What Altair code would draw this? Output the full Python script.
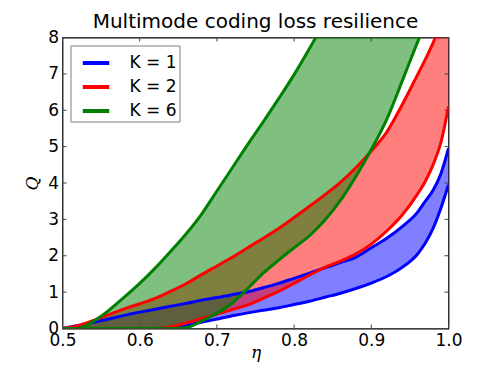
import altair as alt
import pandas as pd

eta = [0.50, 0.52, 0.54, 0.56, 0.58, 0.60, 0.62, 0.64, 0.66, 0.68, 0.70, 0.72, 0.74,
       0.76, 0.78, 0.80, 0.82, 0.84, 0.86, 0.88, 0.90, 0.92, 0.94, 0.96, 0.97, 0.98,
       0.99, 1.00]

k1_upper = [0.0, 0.08, 0.17, 0.26, 0.36, 0.45, 0.53, 0.61, 0.69, 0.78, 0.85, 0.93, 1.01,
            1.12, 1.24, 1.38, 1.52, 1.67, 1.81, 1.96, 2.22, 2.48, 2.80, 3.20, 3.50, 3.80,
            4.25, 4.95]
k1_lower = [0.0, 0.0, 0.0, 0.0, 0.0, 0.0, 0.0, 0.02, 0.09, 0.17, 0.26, 0.35, 0.43,
            0.50, 0.57, 0.66, 0.75, 0.86, 0.97, 1.10, 1.25, 1.43, 1.68, 2.05, 2.35, 2.75,
            3.30, 3.95]

k2_upper = [0.0, 0.08, 0.22, 0.38, 0.54, 0.68, 0.83, 1.02, 1.23, 1.48, 1.72, 1.96, 2.22,
            2.48, 2.75, 3.05, 3.36, 3.68, 4.02, 4.42, 4.88, 5.40, 6.15, 6.98, 7.40, 7.85,
            8.40, 9.00]
k2_lower = [0.0, 0.0, 0.0, 0.0, 0.0, 0.0, 0.0, 0.04, 0.15, 0.27, 0.39, 0.52, 0.65,
            0.83, 1.02, 1.24, 1.47, 1.68, 1.85, 2.05, 2.32, 2.68, 3.12, 3.70, 4.05, 4.50,
            5.10, 6.10]

k6_upper = [0.0, 0.0, 0.20, 0.50, 0.86, 1.24, 1.66, 2.12, 2.60, 3.14, 3.78, 4.42, 5.06,
            5.68, 6.32, 6.98, 7.70, 8.45, 9.20, 10.0, 10.8, 11.7, 12.6, 13.5, 14.0, 14.5,
            15.0, 15.5]
k6_lower = [0.0, 0.0, 0.0, 0.0, 0.0, 0.0, 0.0, 0.0, 0.02, 0.20, 0.42, 0.70, 1.10,
            1.52, 1.88, 2.22, 2.55, 2.98, 3.52, 4.18, 4.92, 5.75, 6.80, 7.88, 8.40, 9.00,
            9.60, 10.2]

labels = ["K = 1", "K = 2", "K = 6"]
colors = ["#0000ff", "#ff0000", "#008000"]
x_ticks = [0.5, 0.6, 0.7, 0.8, 0.9, 1.0]
y_ticks = [0, 1, 2, 3, 4, 5, 6, 7, 8]

rows = []
for lab, up, lo in zip(labels, [k1_upper, k2_upper, k6_upper], [k1_lower, k2_lower, k6_lower]):
    for e, u, l in zip(eta, up, lo):
        rows.append({"eta": e, "upper": u, "lower": l, "K": lab})
df = pd.DataFrame(rows)
xt = pd.DataFrame({"t": x_ticks})
yt = pd.DataFrame({"t": y_ticks})

W, H = 386, 291

xs = alt.Scale(domain=[0.5, 1.0], nice=False, zero=False)
ys = alt.Scale(domain=[0, 8], nice=False)
cs = alt.Scale(domain=labels, range=colors)

xaxis = alt.Axis(values=x_ticks, format=".1f", ticks=False, domain=False, grid=False,
                 labelFontSize=17, labelPadding=4, title="η", titleFont="DejaVu Serif",
                 titleFontStyle="italic", titleFontWeight="normal", titleFontSize=17,
                 titlePadding=-4, labelFlush=False)
yaxis = alt.Axis(values=y_ticks, format="d", ticks=False, domain=False, grid=False,
                 labelFontSize=17, labelPadding=4, title="Q", titleFont="DejaVu Serif",
                 titleFontStyle="italic", titleFontWeight="normal", titleFontSize=17,
                 titlePadding=6, labelFlush=False)

X = alt.X("eta:Q", scale=xs, axis=xaxis)

legend = alt.Legend(title=None, orient="top-left", offset=8, symbolType="stroke",
                    symbolStrokeWidth=4, symbolSize=700, labelFontSize=17,
                    labelFont="DejaVu Sans", strokeColor="#808080", fillColor="white",
                    padding=2, symbolOffset=8, rowPadding=-1, labelOffset=18,
                    labelColor="black")

area = alt.Chart(df).mark_area(opacity=0.5, clip=True, interpolate="monotone").encode(
    x=X,
    y=alt.Y("upper:Q", scale=ys, axis=yaxis),
    y2="lower:Q",
    color=alt.Color("K:N", scale=cs, legend=legend),
)

line_up = alt.Chart(df).mark_line(strokeWidth=3, clip=True, interpolate="monotone").encode(
    x=X,
    y=alt.Y("upper:Q", scale=ys, axis=yaxis),
    color=alt.Color("K:N", scale=cs, legend=legend),
)
line_lo = alt.Chart(df).mark_line(strokeWidth=3, clip=True, interpolate="monotone").encode(
    x=X,
    y=alt.Y("lower:Q", scale=ys, axis=yaxis),
    color=alt.Color("K:N", scale=cs, legend=legend),
)

tick_color = "#444444"
xt_top = alt.Chart(xt).mark_rule(color=tick_color, strokeWidth=1).encode(
    x=alt.X("t:Q", scale=xs, axis=xaxis), y=alt.value(0), y2=alt.value(4))
xt_bot = alt.Chart(xt).mark_rule(color=tick_color, strokeWidth=1).encode(
    x=alt.X("t:Q", scale=xs, axis=xaxis), y=alt.value(H), y2=alt.value(H - 4))
yt_left = alt.Chart(yt).mark_rule(color=tick_color, strokeWidth=1).encode(
    y=alt.Y("t:Q", scale=ys, axis=yaxis), x=alt.value(0), x2=alt.value(4))
yt_right = alt.Chart(yt).mark_rule(color=tick_color, strokeWidth=1).encode(
    y=alt.Y("t:Q", scale=ys, axis=yaxis), x=alt.value(W - 4), x2=alt.value(W))

chart = alt.layer(area, xt_top, xt_bot, yt_left, yt_right, line_up, line_lo).properties(
    width=W, height=H,
    title=alt.TitleParams("Multimode coding loss resilience", fontSize=20,
                          font="DejaVu Sans", fontWeight="normal", color="black",
                          offset=5, dy=8),
    autosize=alt.AutoSizeParams(type="none"),
    padding={"left": 54.5, "top": 29.5, "right": 40, "bottom": 36},
).configure_view(stroke="black", strokeWidth=1.2).configure_axis(
    labelFont="DejaVu Sans", labelColor="black", titleColor="black"
).configure_legend(symbolType="stroke", symbolOpacity=1)

chart.save("out.html", embed_options={"renderer": "svg", "actions": False})
